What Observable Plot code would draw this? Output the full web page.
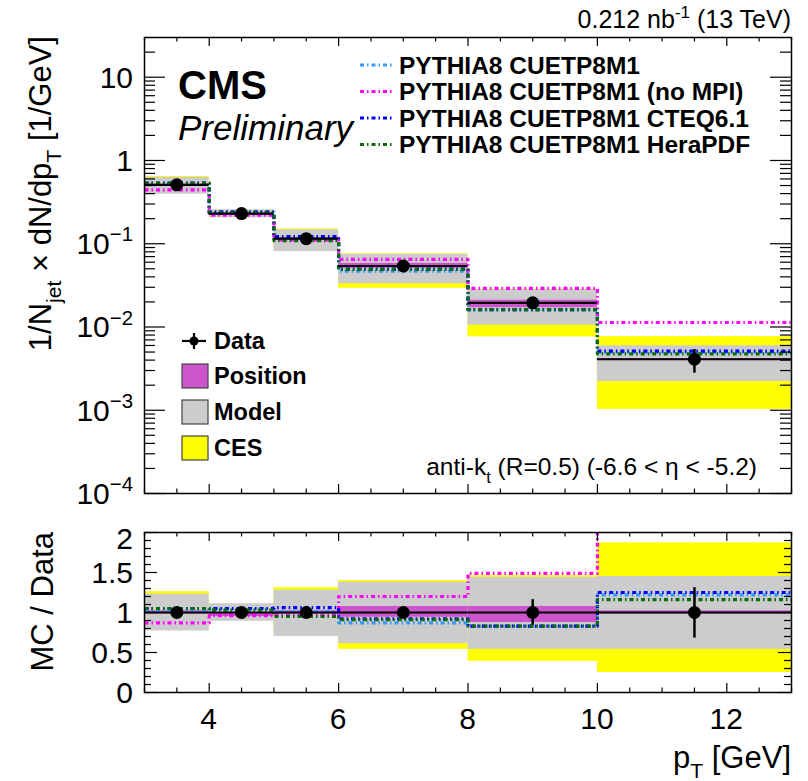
<!DOCTYPE html>
<html><head><meta charset="utf-8">
<script src="https://cdn.jsdelivr.net/npm/d3@7"></script>
<script src="https://cdn.jsdelivr.net/npm/@observablehq/plot@0.6"></script>
<style>
body{margin:0;background:#fff}
#wrap{position:relative;width:808px;height:781px;overflow:hidden;background:#fff}
#wrap svg{position:absolute;left:0;max-width:none}
</style>
</head><body><div id="wrap"></div>
<script>
// ---------------- data ----------------
const binEdges = [3, 4, 5, 6, 8, 10, 13];
const dataVal  = [0.51, 0.23, 0.115, 0.054, 0.0195, 0.0041];
// everything below is relative to data (MC / Data style)
const errUp    = [1.03, 1.03, 1.03, 1.04, 1.16, 1.31];
const errDn    = [0.97, 0.97, 0.97, 0.96, 0.84, 0.68];
const cesUp    = [1.26, 1.09, 1.31, 1.40, 1.46, 1.87];
const cesDn    = [0.80, 0.91, 0.75, 0.54, 0.39, 0.25];
const modelUp  = [1.23, 1.11, 1.28, 1.38, 1.44, 1.45];
const modelDn  = [0.77, 0.89, 0.70, 0.61, 0.54, 0.54];
const posUp    = [1.02, 1.00, 1.02, 1.075, 1.075, 1.02];
const posDn    = [0.98, 0.95, 0.98, 0.94, 0.875, 0.98];
const mcNames  = ["PYTHIA8 CUETP8M1", "PYTHIA8 CUETP8M1 (no MPI)", "PYTHIA8 CUETP8M1 CTEQ6.1", "PYTHIA8 CUETP8M1 HeraPDF"];
const mcColors = ["#3399ff", "#ff00ff", "#0000ff", "#0b6b0b"];
const mcNominal = [1.03, 1.04, 1.01, 0.87, 0.83, 1.22];
const mcNoMPI   = [0.87, 0.96, 0.97, 1.20, 1.49, 2.76];
const mcCTEQ    = [1.05, 1.05, 1.06, 0.92, 0.83, 1.25];
const mcHera    = [1.05, 1.03, 0.95, 0.91, 0.83, 1.16];
const mcRatios  = [mcNominal, mcNoMPI, mcCTEQ, mcHera];
const bandNames = ["Position", "Model", "CES"];
const bandColors = ["#cc55cc", "#cccccc", "#ffff00"];
const xTickLabels = [4, 6, 8, 10, 12];
const yTopTicks = [1e-4, 1e-3, 1e-2, 1e-1, 1, 10];
const yRatioTicks = [0, 0.5, 1, 1.5, 2];

// ---------------- tables ----------------
const bins = dataVal.map((v, i) => ({
  lo: binEdges[i], hi: binEdges[i + 1], mid: (binEdges[i] + binEdges[i + 1]) / 2, v, i
}));
function steps(vals, scale) {
  const pts = [];
  vals.forEach((r, i) => {
    const y = scale ? r * dataVal[i] : r;
    pts.push({x: binEdges[i], y}, {x: binEdges[i + 1], y});
  });
  return pts;
}
const FONT = "'Liberation Sans', Arial, Helvetica, sans-serif";
const W = 808;
const dash = "4,3,1.5,3";

// tick helpers
const xMajor = d3.range(4, 13, 2);
const xMinor = d3.range(3, 13.01, 0.5).filter(v => !xMajor.includes(v));
const logMinor = [];
for (let k = -4; k <= 1; k++) for (let m = 2; m <= 9; m++) { const v = m * 10 ** k; if (v < 30) logMinor.push(v); }
const rMinor = d3.range(0, 2.001, 0.1).map(v => +v.toFixed(2)).filter(v => !yRatioTicks.includes(v));

function frameTicks(fw, fh, xMaj, xMin, yMaj, yMin, yMajLen, yMinLen) {
  return [
    Plot.tickX(xMaj, {x: d => d, insetTop: fh - 9, stroke: "black", strokeWidth: 1.2}),
    Plot.tickX(xMaj, {x: d => d, insetBottom: fh - 9, stroke: "black", strokeWidth: 1.2}),
    Plot.tickX(xMin, {x: d => d, insetTop: fh - 4.5, stroke: "black", strokeWidth: 1.2}),
    Plot.tickX(xMin, {x: d => d, insetBottom: fh - 4.5, stroke: "black", strokeWidth: 1.2}),
    Plot.tickY(yMaj, {y: d => d, insetRight: fw - yMajLen, stroke: "black", strokeWidth: 1.2}),
    Plot.tickY(yMaj, {y: d => d, insetLeft: fw - yMajLen, stroke: "black", strokeWidth: 1.2}),
    Plot.tickY(yMin, {y: d => d, insetRight: fw - yMinLen, stroke: "black", strokeWidth: 1.2}),
    Plot.tickY(yMin, {y: d => d, insetLeft: fw - yMinLen, stroke: "black", strokeWidth: 1.2})
  ];
}

// ---------------- top panel ----------------
const tM = {left: 144, right: 17, top: 37, bottom: 27}, tH = 520;
const tFW = W - tM.left - tM.right, tFH = tH - tM.top - tM.bottom;
const topPlot = Plot.plot({
  width: W, height: tH,
  marginLeft: tM.left, marginRight: tM.right, marginTop: tM.top, marginBottom: tM.bottom,
  x: {domain: [3, 13], axis: null},
  y: {type: "log", domain: [1e-4, 30], axis: null},
  marks: [
    Plot.rect(bins, {x1: "lo", x2: "hi", y1: d => d.v * cesDn[d.i], y2: d => d.v * cesUp[d.i], fill: bandColors[2]}),
    Plot.rect(bins, {x1: "lo", x2: "hi", y1: d => d.v * modelDn[d.i], y2: d => d.v * modelUp[d.i], fill: bandColors[1]}),
    Plot.rect(bins, {x1: "lo", x2: "hi", y1: d => d.v * posDn[d.i], y2: d => d.v * posUp[d.i], fill: bandColors[0]}),
    ...mcRatios.map((r, k) => Plot.line(steps(r, true), {x: "x", y: "y", stroke: mcColors[k], strokeWidth: 3.2, strokeDasharray: dash, strokeLinecap: "butt"})),
    Plot.ruleY(bins, {y: "v", x1: "lo", x2: "hi", stroke: "black", strokeWidth: 2.2}),
    Plot.ruleX(bins, {x: "mid", y1: d => d.v * errDn[d.i], y2: d => d.v * errUp[d.i], stroke: "black", strokeWidth: 2.5}),
    Plot.dot(bins, {x: "mid", y: "v", r: 6.5, fill: "black"}),
    ...frameTicks(tFW, tFH, xMajor, xMinor, yTopTicks, logMinor, 21, 11),
    Plot.frame({stroke: "black", strokeWidth: 1.5})
  ]
});
topPlot.style.top = "0px";

// ---------------- ratio panel ----------------
const bTop = 500;
const bM = {left: 144, right: 17, top: 32, bottom: 89}, bH = 281;
const bFW = W - bM.left - bM.right, bFH = bH - bM.top - bM.bottom;
const botPlot = Plot.plot({
  width: W, height: bH,
  marginLeft: bM.left, marginRight: bM.right, marginTop: bM.top, marginBottom: bM.bottom,
  x: {domain: [3, 13], axis: null},
  y: {domain: [0, 2], axis: null},
  marks: [
    Plot.rect(bins, {x1: "lo", x2: "hi", y1: d => cesDn[d.i], y2: d => cesUp[d.i], fill: bandColors[2]}),
    Plot.rect(bins, {x1: "lo", x2: "hi", y1: d => modelDn[d.i], y2: d => modelUp[d.i], fill: bandColors[1]}),
    Plot.rect(bins, {x1: "lo", x2: "hi", y1: d => posDn[d.i], y2: d => posUp[d.i], fill: bandColors[0]}),
    ...mcRatios.map((r, k) => Plot.line(steps(r, false), {x: "x", y: "y", stroke: mcColors[k], strokeWidth: 3.2, strokeDasharray: dash, strokeLinecap: "butt", clip: true})),
    Plot.ruleY(bins, {y: 1, x1: "lo", x2: "hi", stroke: "black", strokeWidth: 2.2}),
    Plot.ruleX(bins, {x: "mid", y1: d => errDn[d.i], y2: d => errUp[d.i], stroke: "black", strokeWidth: 2.5}),
    Plot.dot(bins, {x: "mid", y: 1, r: 6.5, fill: "black"}),
    ...frameTicks(bFW, bFH, xMajor, xMinor, yRatioTicks, rMinor, 13, 7),
    Plot.frame({stroke: "black", strokeWidth: 1.5})
  ]
});
botPlot.style.top = bTop + "px";

const wrap = document.getElementById("wrap");
wrap.appendChild(topPlot);
wrap.appendChild(botPlot);

// ---------------- overlay texts ----------------
const ov = d3.select(wrap).append("svg")
  .attr("width", W).attr("height", 781)
  .style("top", "0px").style("pointer-events", "none");

function addText({x, y, anchor = "start", size, weight = "normal", style = "normal", rotate = 0, parts}) {
  const t = ov.append("text")
    .attr("transform", `translate(${x},${y})` + (rotate ? ` rotate(${rotate})` : ""))
    .attr("text-anchor", anchor).attr("font-size", size).attr("font-weight", weight)
    .attr("font-style", style).attr("font-family", FONT).attr("fill", "black");
  let cur = 0;
  for (const p of parts) {
    let txt, off, fs;
    if (typeof p === "string") { txt = p; off = 0; fs = size; }
    else if (p.sup !== undefined) { txt = p.sup; off = -size * 0.42; fs = size * 0.68; }
    else { txt = p.sub; off = size * 0.32; fs = size * 0.68; }
    const s = t.append("tspan").attr("font-size", fs).text(txt);
    if (off !== cur) s.attr("dy", off - cur);
    cur = off;
  }
  return t;
}

const tx = topPlot.scale("x"), ty = topPlot.scale("y");
const bx = botPlot.scale("x"), by = botPlot.scale("y");
const TS = 30; // tick label font size

// top y tick labels
yTopTicks.forEach(v => {
  const e = Math.round(Math.log10(v));
  const parts = e === 0 ? ["1"] : e === 1 ? ["10"] : ["10", {sup: "\u2212" + (-e)}];
  addText({x: tM.left - 11, y: ty.apply(v) + TS * 0.36, anchor: "end", size: TS, parts});
});
// ratio y tick labels
yRatioTicks.forEach(v => {
  const yy = by.apply(v) + bTop + TS * 0.36 + (v === 2 ? 6 : 0);
  addText({x: bM.left - 11, y: yy, anchor: "end", size: TS, parts: [String(v)]});
});
// x tick labels
xTickLabels.forEach(v => {
  addText({x: bx.apply(v), y: bTop + bH - bM.bottom + 37, anchor: "middle", size: TS, parts: [String(v)]});
});

// axis titles
addText({x: 51, y: 36, anchor: "end", size: 31, rotate: -90,
  parts: ["1/N", {sub: "jet"}, " \u00d7 dN/dp", {sub: "T"}, " [1/GeV]"]});
addText({x: 53, y: 532, anchor: "end", size: 31, rotate: -90, parts: ["MC / Data"]});
addText({x: 791, y: 768, anchor: "end", size: 31, parts: ["p", {sub: "T"}, " [GeV]"]});

// header
addText({x: 791, y: 28, anchor: "end", size: 25, parts: ["0.212 nb", {sup: "-1"}, " (13 TeV)"]});
addText({x: 178, y: 99, size: 40, weight: "bold", parts: ["CMS"]});
addText({x: 178, y: 140, size: 35, style: "italic", parts: ["Preliminary"]});
addText({x: 757, y: 475, anchor: "end", size: 24.5,
  parts: ["anti-k", {sub: "t"}, " (R=0.5) (-6.6 < \u03b7 < -5.2)"]});

// MC legend
const mcRowY = [65, 91.5, 118, 144.5];
mcNames.forEach((n, k) => {
  ov.append("line").attr("x1", 360).attr("x2", 393).attr("y1", mcRowY[k]).attr("y2", mcRowY[k])
    .attr("stroke", mcColors[k]).attr("stroke-width", 3.2).attr("stroke-dasharray", dash);
  addText({x: 399, y: mcRowY[k] + 8.5, size: 24.5, weight: "bold", parts: [n]});
});

// Data / band legend
const lgY = [341, 376, 412, 448];
ov.append("line").attr("x1", 182).attr("x2", 206).attr("y1", lgY[0]).attr("y2", lgY[0]).attr("stroke", "black").attr("stroke-width", 2.2);
ov.append("line").attr("x1", 194).attr("x2", 194).attr("y1", lgY[0] - 8).attr("y2", lgY[0] + 8).attr("stroke", "black").attr("stroke-width", 2.2);
ov.append("circle").attr("cx", 194).attr("cy", lgY[0]).attr("r", 4.5).attr("fill", "black");
addText({x: 214, y: lgY[0] + 8, size: 23.5, weight: "bold", parts: ["Data"]});
bandNames.forEach((n, k) => {
  ov.append("rect").attr("x", 182).attr("y", lgY[k + 1] - 12).attr("width", 26).attr("height", 24)
    .attr("fill", bandColors[k]).attr("stroke", "#444").attr("stroke-width", 1.2);
  addText({x: 214, y: lgY[k + 1] + 8, size: 23.5, weight: "bold", parts: [n]});
});
</script>
</body></html>
